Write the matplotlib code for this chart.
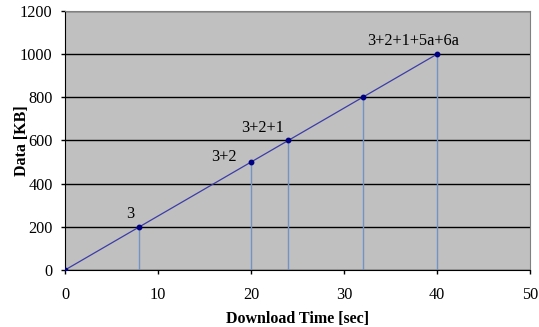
import numpy as np
import matplotlib.pyplot as plt

# download time vs. cumulative data per layer combination
times = [0, 8, 20, 24, 32, 40]
data_kb = [0, 200, 500, 600, 800, 1000]
point_labels = {8: "3", 20: "3+2", 24: "3+2+1", 40: "3+2+1+5a+6a"}
label_offsets = {8: (-9, 13), 20: (-27, 5), 24: (-26, 12), 40: (-24, 13)}

plt.rcParams['font.family'] = ['Liberation Serif', 'DejaVu Serif']

fig = plt.figure(figsize=(5.39, 3.27), dpi=100)
ax = fig.add_axes([0.1206, 0.1743, 0.8627, 0.7921])
ax.set_facecolor('#c0c0c0')

ax.set_xlim(0, 50)
ax.set_ylim(0, 1200)
ax.set_xticks(np.arange(0, 51, 10))
ax.set_yticks(np.arange(0, 1201, 200))
ax.yaxis.grid(True, color='black', linewidth=1.0)
ax.set_axisbelow(True)

# drop lines from each point to the x axis
ax.vlines(times[1:], 0, data_kb[1:], color='#7393c4', linewidth=1.0, zorder=2)
ax.plot(times, data_kb, color='#3c3ca8', linewidth=0.9, marker='o',
        markersize=3.2, markerfacecolor='#000080', markeredgecolor='#000080', zorder=3)

for t, d in zip(times, data_kb):
    if t in point_labels:
        ax.annotate(point_labels[t], (t, d), xytext=label_offsets[t],
                    textcoords='offset pixels', ha='center', va='center', fontsize=11.7)

for side in ['top', 'right']:
    ax.spines[side].set_color('#808080')
ax.spines['left'].set_color('black')
ax.spines['bottom'].set_color('black')
ax.tick_params(axis='both', direction='out', length=3, width=1, labelsize=11.7)
ax.tick_params(axis='x', pad=9)
ax.tick_params(axis='y', pad=6)

ax.set_xlabel('Download Time [sec]', fontsize=11.5, fontweight='bold', labelpad=6)
ax.set_ylabel('Data [KB]', fontsize=11.5, fontweight='bold', labelpad=-7)

fig.savefig('out.png', dpi=100)
